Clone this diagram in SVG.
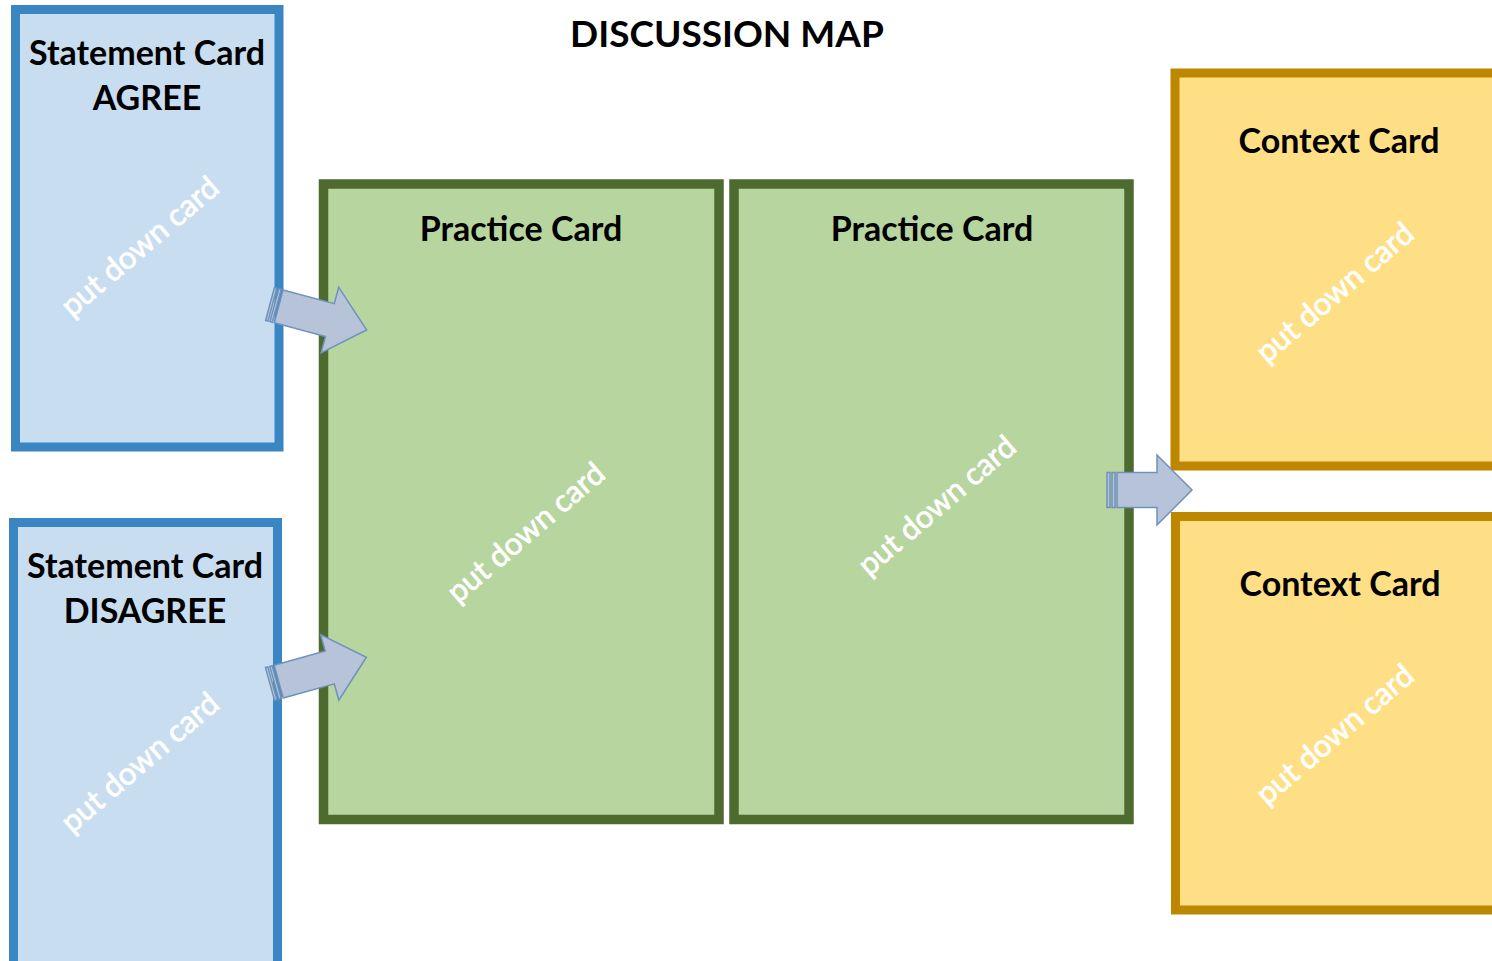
<svg xmlns="http://www.w3.org/2000/svg" width="1492" height="961" viewBox="0 0 1492 961">
  <defs>
    <style>
      .title { font-family: Lato, "Liberation Sans", sans-serif; font-weight: 700; font-size: 37px; fill: #000; text-anchor: middle; }
      .label { font-family: Lato, "Liberation Sans", sans-serif; font-weight: 700; font-size: 34px; fill: #000; text-anchor: middle; }
      .hint { font-family: Lato, "Liberation Sans", sans-serif; font-weight: 400; font-size: 31px; fill: #fff; stroke: #fff; stroke-width: 0.7; text-anchor: middle; }
      .statement { fill: #C8DDF0; stroke: #3A86C3; stroke-width: 9; }
      .practice { fill: #B7D59F; stroke: #4D6A2F; stroke-width: 9.5; }
      .context { fill: #FFDF86; stroke: #BE8700; stroke-width: 9; }
      .flow { fill: #B6C3D9; stroke: #6E92BA; stroke-width: 1.5; stroke-linejoin: miter; }
    </style>
    <!-- block arrow with striped tail, tail at x=0, pointing along +x -->
    <g id="arrow-long">
      <rect class="flow" x="0" y="-17" width="2.5" height="34"/>
      <rect class="flow" x="4.5" y="-17" width="2.5" height="34"/>
      <path class="flow" d="M9,-17 L62,-17 L62,-34 L100,0 L62,34 L62,17 L9,17 Z"/>
    </g>
    <g id="arrow-short">
      <rect class="flow" x="0" y="-17.5" width="3" height="35"/>
      <rect class="flow" x="5" y="-17.5" width="3" height="35"/>
      <path class="flow" d="M10,-17.5 L50,-17.5 L50,-35 L85,0 L50,35 L50,17.5 L10,17.5 Z"/>
    </g>
  </defs>

  <rect width="1492" height="961" fill="#fff"/>

  <text class="title" x="727" y="47">DISCUSSION MAP</text>

  <g id="statement-agree">
    <rect class="statement" x="15.5" y="9.5" width="263.5" height="437.5"/>
    <text class="label" x="147" y="65">Statement Card</text>
    <text class="label" x="147" y="110">AGREE</text>
    <text class="hint" transform="translate(140,247) rotate(-40.5)" y="10">put down card</text>
  </g>

  <g id="statement-disagree">
    <rect class="statement" x="13.5" y="522.5" width="264" height="460"/>
    <text class="label" x="145" y="578">Statement Card</text>
    <text class="label" x="145" y="623">DISAGREE</text>
    <text class="hint" transform="translate(140,763) rotate(-40.5)" y="10">put down card</text>
  </g>

  <g id="practice-1">
    <rect class="practice" x="323.5" y="184" width="395.5" height="635.5"/>
    <text class="label" x="521" y="241">Practice Card</text>
    <text class="hint" transform="translate(526,533) rotate(-40.5)" y="10">put down card</text>
  </g>

  <g id="practice-2">
    <rect class="practice" x="734" y="184" width="395" height="635.5"/>
    <text class="label" x="932" y="241">Practice Card</text>
    <text class="hint" transform="translate(937,506) rotate(-40.5)" y="10">put down card</text>
  </g>

  <g id="context-1">
    <rect class="context" x="1175" y="73" width="340" height="393"/>
    <text class="label" x="1339" y="153">Context Card</text>
    <text class="hint" transform="translate(1335,293) rotate(-40.5)" y="10">put down card</text>
  </g>

  <g id="context-2">
    <rect class="context" x="1175.5" y="516.5" width="340" height="393.5"/>
    <text class="label" x="1340" y="596">Context Card</text>
    <text class="hint" transform="translate(1335,735) rotate(-40.5)" y="10">put down card</text>
  </g>

  <g id="connectors">
    <use href="#arrow-long" transform="translate(270,304) rotate(15)"/>
    <use href="#arrow-long" transform="translate(270,684) rotate(-15.5)"/>
    <use href="#arrow-short" transform="translate(1107,490)"/>
  </g>
</svg>
